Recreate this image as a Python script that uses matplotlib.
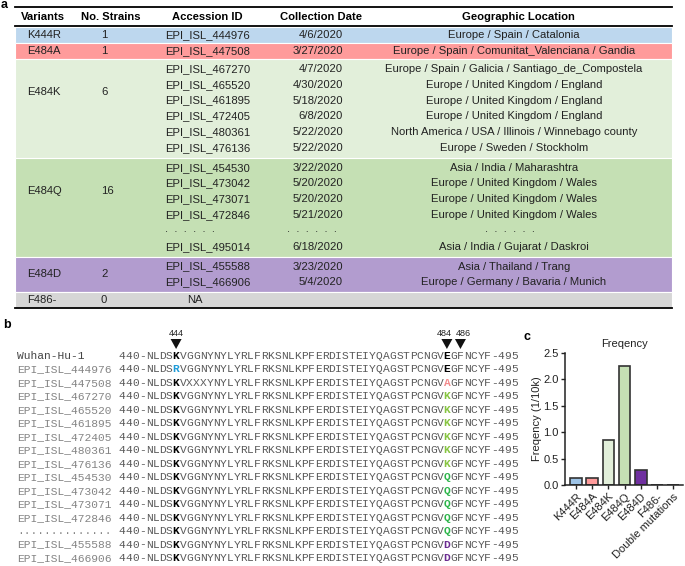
import matplotlib.pyplot as plt
from matplotlib.patches import Rectangle, Polygon

plt.rcParams['font.family'] = ['Liberation Sans', 'DejaVu Sans']

# ---------------- panel a: variant table ----------------
variants = ['K444R', 'E484A', 'E484K', 'E484Q', 'E484D', 'F486-']
n_strains = [1, 1, 6, 16, 2, 0]
accessions = [
    ['EPI_ISL_444976'],
    ['EPI_ISL_447508'],
    ['EPI_ISL_467270', 'EPI_ISL_465520', 'EPI_ISL_461895',
     'EPI_ISL_472405', 'EPI_ISL_480361', 'EPI_ISL_476136'],
    ['EPI_ISL_454530', 'EPI_ISL_473042', 'EPI_ISL_473071',
     'EPI_ISL_472846', '......', 'EPI_ISL_495014'],
    ['EPI_ISL_455588', 'EPI_ISL_466906'],
    ['NA'],
]
dates = [
    ['4/6/2020'],
    ['3/27/2020'],
    ['4/7/2020', '4/30/2020', '5/18/2020', '6/8/2020', '5/22/2020', '5/22/2020'],
    ['3/22/2020', '5/20/2020', '5/20/2020', '5/21/2020', '......', '6/18/2020'],
    ['3/23/2020', '5/4/2020'],
    [''],
]
locations = [
    ['Europe / Spain / Catalonia'],
    ['Europe / Spain / Comunitat_Valenciana / Gandia'],
    ['Europe / Spain / Galicia / Santiago_de_Compostela',
     'Europe / United Kingdom / England',
     'Europe / United Kingdom / England',
     'Europe / United Kingdom / England',
     'North America / USA / Illinois / Winnebago county',
     'Europe / Sweden / Stockholm'],
    ['Asia / India / Maharashtra',
     'Europe / United Kingdom / Wales',
     'Europe / United Kingdom / Wales',
     'Europe / United Kingdom / Wales',
     '......',
     'Asia / India / Gujarat / Daskroi'],
    ['Asia / Thailand / Trang', 'Europe / Germany / Bavaria / Munich'],
    [''],
]
headers = ['Variants', 'No. Strains', 'Accession ID', 'Collection Date', 'Geographic Location']
row_colors = ['#BDD7EE', '#FF9B9B', '#E2EFDA', '#C5E0B4', '#B29CCF', '#D6D6D6']

# ---------------- panel b: alignment ----------------
ref_seq = '440-NLDSKVGGNYNYLYRLFRKSNLKPFERDISTEIYQAGSTPCNGVEGFNCYF-495'
seq_names = ['Wuhan-Hu-1', 'EPI_ISL_444976', 'EPI_ISL_447508',
             'EPI_ISL_467270', 'EPI_ISL_465520', 'EPI_ISL_461895',
             'EPI_ISL_472405', 'EPI_ISL_480361', 'EPI_ISL_476136',
             'EPI_ISL_454530', 'EPI_ISL_473042', 'EPI_ISL_473071',
             'EPI_ISL_472846', '..............', 'EPI_ISL_455588',
             'EPI_ISL_466906']
res_444 = ['K', 'R', 'K', 'K', 'K', 'K', 'K', 'K', 'K', 'K', 'K', 'K', 'K', 'K', 'K', 'K']
res_484 = ['E', 'E', 'A', 'K', 'K', 'K', 'K', 'K', 'K', 'Q', 'Q', 'Q', 'Q', 'Q', 'D', 'D']
res_446_448 = ['GGN'] * 16
res_446_448[2] = 'XXX'
site_labels = ['444', '484', '486']
site_pos = [444, 484, 486]
res_colors = {'K444': '#000000', 'R444': '#1E9BD8',
              'E484': '#000000', 'A484': '#F28A8C', 'K484': '#86C440',
              'Q484': '#2DB54B', 'D484': '#6B2C91'}

# ---------------- panel c: frequency ----------------
freq_labels = ['K444R', 'E484A', 'E484K', 'E484Q', 'E484D', 'F486-', 'Double mutations']
freq_values = [0.14, 0.14, 0.85, 2.25, 0.28, 0.0, 0.0]
freq_colors = ['#9DC3E6', '#FF9B9B', '#E2EFDA', '#C5E0B4', '#7030A0', '#FFFFFF', '#FFFFFF']

W, H = 685, 566
fig = plt.figure(figsize=(W / 100, H / 100), dpi=100)
ax = fig.add_axes([0, 0, 1, 1])
ax.set_xlim(0, W)
ax.set_ylim(H, 0)
ax.axis('off')

txt = '#222222'

# ---- table
tl, tr = 15, 672
fs_tab = 8.1
ax.text(1, 5, 'a', fontsize=9, fontweight='bold', va='center', ha='left')
ax.plot([tl, tr], [7, 7], color='black', lw=1.3)
ax.plot([tl, tr], [26, 26], color='black', lw=1.3)
for lab, xc in zip(headers, [43, 111, 207, 321, 518]):
    ax.text(xc, 16.5, lab, fontsize=fs_tab, fontweight='bold', ha='center', va='center')

dots = '.  .  .  .  .  .'
pitch = 15.8
top = 27
for k, var in enumerate(variants):
    n = len(accessions[k])
    pad = 4 if n > 1 else 0
    h = pitch * n + pad if n > 1 else 16
    ax.add_patch(Rectangle((tl, top), tr - tl, h, facecolor=row_colors[k],
                           edgecolor='white', lw=0.8))
    ylab = top + min(h / 2, 33)
    ax.text(27, ylab, var, fontsize=fs_tab, ha='left', va='center', color=txt)
    ax.text(101, ylab, str(n_strains[k]), fontsize=fs_tab, ha='left', va='center', color=txt)
    for i in range(n):
        y = top + pad / 2 + pitch * (i + 0.5) if n > 1 else top + h / 2
        acc = accessions[k][i]
        if acc == 'NA':
            ax.text(195, y, acc, fontsize=fs_tab, ha='center', va='center', color=txt)
        elif acc.startswith('.'):
            ax.text(190, y - 2, dots, fontsize=fs_tab, ha='center', va='center', color=txt)
        else:
            ax.text(165, y, acc, fontsize=fs_tab, ha='left', va='center', color=txt)
        d = dates[k][i]
        if d.startswith('.'):
            ax.text(312, y - 2, dots, fontsize=fs_tab, ha='center', va='center', color=txt)
        else:
            ax.text(343, y, d, fontsize=fs_tab, ha='right', va='center', color=txt)
        loc = locations[k][i]
        if loc.startswith('.'):
            ax.text(510, y - 2, dots, fontsize=fs_tab, ha='center', va='center', color=txt)
        else:
            ax.text(514, y, loc, fontsize=fs_tab, ha='center', va='center', color=txt)
    top += h
ax.plot([tl, tr], [top, top], color='black', lw=1.3)

# ---- alignment (one text per residue so the columns stay aligned)
ax.text(3, 325, 'b', fontsize=9, fontweight='bold', va='center', ha='left')
fs_seq = 8.1
cw = 6.77
x0 = 17
seq_x0 = x0 + 15 * cw
y0, dy = 356, 13.47
i444 = 4 + 444 - 440
i484 = 4 + 484 - 440
for r, name in enumerate(seq_names):
    y = y0 + r * dy
    seq = list(ref_seq)
    seq[i444 + 2:i444 + 5] = list(res_446_448[r])
    seq[i444] = res_444[r]
    seq[i484] = res_484[r]
    name_col = '#444444' if r == 0 else '#858585'
    ax.text(x0, y, name, fontsize=fs_seq, family='Liberation Mono', color=name_col,
            ha='left', va='center')
    for idx, ch in enumerate(seq):
        if idx == i444:
            col, fw = res_colors[f'{ch}444'], 'bold'
        elif idx == i484:
            col, fw = res_colors[f'{ch}484'], 'bold'
        else:
            col, fw = '#5a5a5a', 'normal'
        ax.text(seq_x0 + (idx + 0.5) * cw, y, ch, fontsize=fs_seq, family='Liberation Mono',
                fontweight=fw, color=col, ha='center', va='center')

for lab, pos, shift in zip(site_labels, site_pos, [0, -2.5, 3]):
    idx = 4 + pos - 440
    xc = seq_x0 + (idx + 0.5) * cw
    ax.text(xc + shift, 333, lab, fontsize=6.5, ha='center', va='center', color=txt)
    ax.add_patch(Polygon([(xc - 5.5, 339), (xc + 5.5, 339), (xc, 349)],
                         closed=True, facecolor='#111111', edgecolor='none'))

# ---- frequency bar chart
ax.text(524, 337, 'c', fontsize=9, fontweight='bold', va='center', ha='left')
axc = fig.add_axes([565 / W, 1 - 485 / H, 118 / W, 132 / H])
xpos = list(range(len(freq_labels)))
axc.bar(xpos, freq_values, width=0.72, color=freq_colors,
        edgecolor='#333333', linewidth=1.2)
axc.set_xlim(-0.68, 6.6)
axc.set_ylim(0, 2.5)
axc.set_yticks([0, 0.5, 1.0, 1.5, 2.0, 2.5])
axc.yaxis.set_major_formatter('{x:.1f}')
axc.set_xticks(xpos)
axc.set_xticklabels(freq_labels, rotation=45, ha='right', rotation_mode='anchor')
axc.tick_params(labelsize=8, length=3, width=1, pad=1.5, colors=txt)
for s in ['top', 'right']:
    axc.spines[s].set_visible(False)
for s in ['left', 'bottom']:
    axc.spines[s].set_linewidth(1.1)
    axc.spines[s].set_color(txt)
axc.set_title('Freqency', fontsize=8, pad=4, color=txt)
axc.set_ylabel('Freqency (1/10k)', fontsize=8, labelpad=1, color=txt)

fig.savefig('out.png', dpi=100)
